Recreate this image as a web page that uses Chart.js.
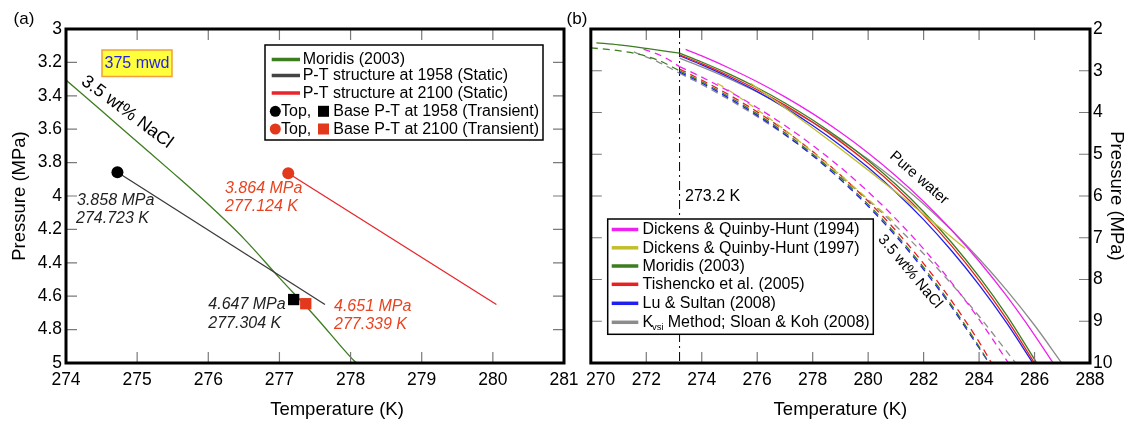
<!DOCTYPE html>
<html>
<head>
<meta charset="utf-8">
<title>Hydrate stability P-T</title>
<script src="https://cdn.jsdelivr.net/npm/chart.js@4.4.1/dist/chart.umd.min.js"></script>
<style>
  html, body { margin: 0; padding: 0; background: #ffffff; }
  #wrap { position: relative; width: 1128px; height: 421px; overflow: hidden; background: #ffffff; }
  canvas { position: absolute; top: 0; }
  #chartA { left: 0; }
  #chartB { left: 560px; }
</style>
</head>
<body>
<div id="wrap">
  <canvas id="chartA" width="600" height="421" style="width:600px;height:421px"></canvas>
  <canvas id="chartB" width="568" height="421" style="width:568px;height:421px"></canvas>
</div>
<script>
// ================= Panel (a) data =================
const tempTicksA = [274, 275, 276, 277, 278, 279, 280, 281];
const tempLabelsA = ['274', '275', '276', '277', '278', '279', '280', '281'];
const pressTicksA = [3, 3.2, 3.4, 3.6, 3.8, 4, 4.2, 4.4, 4.6, 4.8, 5];
const pressLabelsA = ['3', '3.2', '3.4', '3.6', '3.8', '4', '4.2', '4.4', '4.6', '4.8', '5'];

// Moridis (2003), 3.5 wt% NaCl
const moridisNaclT = [274, 274.5, 275, 275.5, 276, 276.5, 277, 277.5, 278, 278.08];
const moridisNaclP = [3.306, 3.49, 3.675, 3.86, 4.05, 4.255, 4.49, 4.72, 4.965, 5.0];
// static P-T structures
const static1958T = [274.723, 277.64];
const static1958P = [3.858, 4.65];
const static2100T = [277.124, 280.05];
const static2100P = [3.864, 4.65];
// transient top (circles) and base (squares): [1958, 2100]
const topT = [274.723, 277.124];
const topP = [3.858, 3.864];
const baseT = [277.2, 277.37];
const baseP = [4.62, 4.645];

// ================= Panel (b) data =================
const tempTicksB = [270, 272, 274, 276, 278, 280, 282, 284, 286, 288];
const tempLabelsB = ['\u2007\u2007270', '272', '274', '276', '278', '280', '282', '284', '286', '288'];
const pressTicksB = [2, 3, 4, 5, 6, 7, 8, 9, 10];
const pressLabelsB = ['2', '3', '4', '5', '6', '7', '8', '9', '10'];
const meltingT = [273.2, 273.2];
const meltingP = [2, 10];

const seriesNamesB = ['Dickens & Quinby-Hunt (1994)', 'Dickens & Quinby-Hunt (1997)', 'Moridis (2003)',
                      'Tishencko et al. (2005)', 'Lu & Sultan (2008)', 'Kvsi Method; Sloan & Koh (2008)'];

// pure water (solid)
const dq94T = [273.42, 274, 275, 276, 277, 278, 279, 280, 281, 282, 283, 284, 285, 286, 286.67];
const dq94P = [2.49, 2.646, 2.94, 3.264, 3.626, 4.028, 4.474, 4.969, 5.519, 6.13, 6.809, 7.562, 8.4, 9.33, 10];
const dq97T = [275.76, 276, 277, 278, 279, 280, 281, 282, 283, 283.5];
const dq97P = [3.3, 3.412, 3.886, 4.372, 4.87, 5.38, 5.902, 6.436, 6.982, 7.26];
const moridisIceT = [270.2, 271, 272, 273.2];
const moridisIceP = [2.33, 2.38, 2.465, 2.58];
const moridisT = [273.2, 274, 275, 276, 277, 278, 279, 280, 281, 282, 283, 284, 285, 286.08];
const moridisP = [2.58, 2.791, 3.082, 3.407, 3.771, 4.179, 4.637, 5.15, 5.727, 6.376, 7.107, 7.931, 8.86, 10];
const tishT = [273.2, 274, 275, 276, 277, 278, 279, 280, 281, 282, 283, 284, 285, 286];
const tishP = [2.62, 2.83, 3.125, 3.455, 3.822, 4.235, 4.698, 5.215, 5.797, 6.452, 7.19, 8.02, 8.955, 10];
const luT = [273.2, 274, 275, 276, 277, 278, 279, 280, 281, 282, 283, 284, 285, 285.94];
const luP = [2.64, 2.861, 3.162, 3.499, 3.884, 4.313, 4.79, 5.32, 5.91, 6.567, 7.306, 8.129, 9.046, 10];
const kvsiT = [273.2, 274, 275, 276, 277, 278, 279, 280, 281, 282, 283, 284, 285, 286, 286.98];
const kvsiP = [2.7, 2.909, 3.195, 3.509, 3.855, 4.237, 4.657, 5.12, 5.631, 6.194, 6.816, 7.503, 8.26, 9.096, 10];

// 3.5 wt% NaCl (dashed)
const dq94SaltIceT = [271.9, 272.6, 273.2];
const dq94SaltIceP = [2.48, 2.66, 2.9];
const dq94SaltT = [273.2, 274, 275, 276, 277, 278, 279, 280, 281, 282, 283, 284, 285.06];
const dq94SaltP = [2.9, 3.153, 3.499, 3.885, 4.312, 4.787, 5.313, 5.898, 6.547, 7.268, 8.067, 8.955, 10];
const dq97SaltT = [274.56, 275, 276, 277, 278, 279, 280, 280.9];
const dq97SaltP = [3.3, 3.48, 3.93, 4.42, 4.95, 5.5, 6.08, 6.6];
const moridisSaltIceT = [270, 271, 271.56, 272.4, 273.2];
const moridisSaltIceP = [2.45, 2.52, 2.58, 2.74, 3.0];
const moridisSaltT = [273.2, 274, 275, 276, 277, 278, 279, 280, 281, 282, 283, 284, 284.36];
const moridisSaltP = [3.0, 3.263, 3.627, 4.033, 4.487, 4.995, 5.563, 6.2, 6.912, 7.711, 8.606, 9.609, 10];
const tishSaltT = [273.2, 274, 275, 276, 277, 278, 279, 280, 281, 282, 283, 284, 284.45];
const tishSaltP = [2.96, 3.224, 3.583, 3.985, 4.433, 4.935, 5.496, 6.126, 6.829, 7.618, 8.503, 9.494, 10];
const luSaltT = [273.2, 274, 275, 276, 277, 278, 279, 280, 281, 282, 283, 284, 284.36];
const luSaltP = [3.03, 3.293, 3.662, 4.068, 4.525, 5.035, 5.605, 6.245, 6.96, 7.76, 8.65, 9.64, 10];
const kvsiSaltIceT = [271.55, 272.4, 273.2];
const kvsiSaltIceP = [2.55, 2.78, 3.06];
const kvsiSaltT = [273.2, 274, 275, 276, 277, 278, 279, 280, 281, 282, 283, 284, 285.32];
const kvsiSaltP = [3.06, 3.33, 3.697, 4.098, 4.537, 5.015, 5.536, 6.1, 6.717, 7.382, 8.102, 8.88, 10];

// ================= styling =================
const FONT = "'Liberation Sans', Arial, Helvetica, sans-serif";
Chart.defaults.font.family = FONT;
Chart.defaults.color = '#000';

const GREEN = '#3b7d1f';
const RED_A = '#e8252a';
const RED_MARK = '#e2391c';
const RED_TXT = '#e8431f';
const DARK = '#3a3a3a';
const MAGENTA = '#ee22ee';
const YELLOW = '#c3bf2c';
const RED_B = '#e8201e';
const BLUE = '#1f1ff2';
const GREY = '#8c8c8c';
const colorsB = [MAGENTA, YELLOW, GREEN, RED_B, BLUE, GREY];

function pts(T, P) { return T.map((t, i) => ({ x: t, y: P[i] })); }

function lineDs(label, T, P, color, dashed, width, smooth) {
  const d = {
    label, data: pts(T, P), showLine: true, borderColor: color, backgroundColor: color,
    borderWidth: width || 1.3, borderDash: dashed ? [7, 5] : [], pointRadius: 0, pointHoverRadius: 0,
    fill: false, tension: 0
  };
  if (smooth) d.cubicInterpolationMode = 'monotone';
  return d;
}
function markerDs(label, T, P, color, style, r) {
  return {
    label, data: pts(T, P), showLine: false, pointStyle: style, pointRadius: r, pointHoverRadius: r,
    backgroundColor: color, borderColor: color, borderWidth: 0
  };
}

// frame with inward ticks on all four sides
const framePlugin = {
  id: 'frame',
  afterDatasetsDraw(chart) {
    const { ctx, chartArea: a, scales } = chart;
    const xs = scales.x, ys = scales.y;
    const L = 11;
    ctx.save();
    ctx.strokeStyle = '#7a7a7a';
    ctx.lineWidth = 1.2;
    ctx.beginPath();
    xs.ticks.forEach(t => {
      const p = xs.getPixelForValue(t.value);
      if (p <= a.left + 2 || p >= a.right - 2) return;
      ctx.moveTo(p, a.bottom); ctx.lineTo(p, a.bottom - L);
      ctx.moveTo(p, a.top); ctx.lineTo(p, a.top + L);
    });
    ys.ticks.forEach(t => {
      const p = ys.getPixelForValue(t.value);
      if (p <= a.top + 2 || p >= a.bottom - 2) return;
      ctx.moveTo(a.left, p); ctx.lineTo(a.left + L, p);
      ctx.moveTo(a.right, p); ctx.lineTo(a.right - L, p);
    });
    ctx.stroke();
    ctx.strokeStyle = '#000';
    ctx.lineWidth = 3;
    ctx.strokeRect(a.left, a.top, a.right - a.left, a.bottom - a.top);
    ctx.restore();
  }
};

function text(ctx, s, x, y, font, color, align, rotDeg) {
  ctx.save();
  ctx.font = font;
  ctx.fillStyle = color;
  ctx.textAlign = align || 'left';
  ctx.textBaseline = 'middle';
  ctx.translate(x, y);
  if (rotDeg) ctx.rotate(rotDeg * Math.PI / 180);
  ctx.fillText(s, 0, 0);
  ctx.restore();
}

const annotA = {
  id: 'annotA',
  afterDatasetsDraw(chart) {
    const ctx = chart.ctx;
    ctx.save();
    text(ctx, '(a)', 24, 19, `17px ${FONT}`, '#000', 'center');
    text(ctx, 'Temperature (K)', 337, 410, `18.5px ${FONT}`, '#000', 'center');
    // 375 mwd box
    ctx.fillStyle = '#ffff3c';
    ctx.fillRect(102, 50, 70, 26.5);
    ctx.strokeStyle = '#f2a03a';
    ctx.lineWidth = 1.5;
    ctx.strokeRect(102, 50, 70, 26.5);
    text(ctx, '375 mwd', 137, 63.8, `16px ${FONT}`, '#2323e6', 'center');
    // salinity label
    text(ctx, '3.5 wt% NaCl', 127, 112, `18px ${FONT}`, '#000', 'center', 36.7);
    // value annotations
    const it = `italic 16px ${FONT}`;
    text(ctx, '3.858 MPa', 77, 200.7, it, '#222');
    text(ctx, '274.723 K', 76, 219, it, '#222');
    text(ctx, '3.864 MPa', 225, 188.3, it, RED_TXT);
    text(ctx, '277.124 K', 225, 206.3, it, RED_TXT);
    text(ctx, '4.647 MPa', 208.3, 305, it, '#222');
    text(ctx, '277.304 K', 208.3, 323.3, it, '#222');
    text(ctx, '4.651 MPa', 334, 306.7, it, RED_TXT);
    text(ctx, '277.339 K', 334, 325, it, RED_TXT);
    // legend
    ctx.fillStyle = '#fff';
    ctx.fillRect(265, 45, 278, 95);
    ctx.strokeStyle = '#000';
    ctx.lineWidth = 1.5;
    ctx.strokeRect(265, 45, 278, 95);
    const f = `16px ${FONT}`;
    const rows = [59.5, 75.5, 93, 111.3, 129];
    const lineRows = [[GREEN, 'Moridis (2003)'], ['#444', 'P-T structure at 1958 (Static)'], [RED_A, 'P-T structure at 2100 (Static)']];
    lineRows.forEach((r, i) => {
      ctx.strokeStyle = r[0];
      ctx.lineWidth = 3.5;
      ctx.beginPath(); ctx.moveTo(271.7, rows[i]); ctx.lineTo(300, rows[i]); ctx.stroke();
      text(ctx, r[1], 302.7, rows[i] + 0.5, f, '#000');
    });
    const mk = [['#000', 'Base P-T at 1958 (Transient)'], [RED_MARK, 'Base P-T at 2100 (Transient)']];
    mk.forEach((m, j) => {
      const y = rows[3 + j];
      ctx.fillStyle = m[0];
      ctx.beginPath(); ctx.arc(275.3, y, 5.5, 0, Math.PI * 2); ctx.fill();
      text(ctx, 'Top,', 281, y + 0.5, f, '#000');
      ctx.fillStyle = m[0];
      ctx.fillRect(318, y - 5.5, 11, 11);
      text(ctx, m[1], 333.3, y + 0.5, f, '#000');
    });
    ctx.restore();
  }
};

const annotB = {
  id: 'annotB',
  afterDatasetsDraw(chart) {
    const ctx = chart.ctx;
    ctx.save();
    text(ctx, '(b)', 17, 19, `17px ${FONT}`, '#000', 'center');
    text(ctx, '273.2 K', 125, 197, `16px ${FONT}`, '#000');
    text(ctx, 'Pure water', 359, 178, `15px ${FONT}`, '#000', 'center', 41);
    text(ctx, '3.5 wt% NaCl', 350, 271.7, `15px ${FONT}`, '#000', 'center', 50);
    // legend
    ctx.fillStyle = '#fff';
    ctx.fillRect(47.7, 219, 265.6, 115.3);
    ctx.strokeStyle = '#000';
    ctx.lineWidth = 1.5;
    ctx.strokeRect(47.7, 219, 265.6, 115.3);
    const rows = [229.5, 247.8, 266, 284.3, 303.3, 322.3];
    const f = `16px ${FONT}`;
    seriesNamesB.forEach((name, i) => {
      const y = rows[i];
      ctx.strokeStyle = colorsB[i];
      ctx.lineWidth = 3.5;
      ctx.beginPath(); ctx.moveTo(51.7, y); ctx.lineTo(78.3, y); ctx.stroke();
      if (name.startsWith('Kvsi')) {
        text(ctx, 'K', 82.5, y + 0.5, f, '#000');
        text(ctx, 'vsi', 92, y + 5.5, `9.5px ${FONT}`, '#000');
        text(ctx, name.slice(4), 103.3, y + 0.5, f, '#000');
      } else {
        text(ctx, name, 82.5, y + 0.5, f, '#000');
      }
    });
    ctx.restore();
  }
};

// ================= Chart (a) =================
new Chart(document.getElementById('chartA'), {
  type: 'scatter',
  data: {
    datasets: [
      markerDs('Top 2100', [topT[1]], [topP[1]], RED_MARK, 'circle', 6),
      markerDs('Top 1958', [topT[0]], [topP[0]], '#000', 'circle', 6),
      markerDs('Base 2100', [baseT[1]], [baseP[1]], RED_MARK, 'rect', 8),
      markerDs('Base 1958', [baseT[0]], [baseP[0]], '#000', 'rect', 8),
      lineDs('P-T structure at 1958 (Static)', static1958T, static1958P, DARK, false, 1.3),
      lineDs('P-T structure at 2100 (Static)', static2100T, static2100P, RED_A, false, 1.3),
      lineDs('Moridis (2003)', moridisNaclT, moridisNaclP, GREEN, false, 1.3, true)
    ]
  },
  options: {
    responsive: false, animation: false, devicePixelRatio: 1, events: [],
    layout: { padding: { top: 29, right: 36, left: 0, bottom: 0 } },
    plugins: { legend: { display: false }, tooltip: { enabled: false } },
    scales: {
      x: {
        type: 'linear', position: 'bottom', min: 274, max: 281,
        afterBuildTicks: s => { s.ticks = tempTicksA.map(v => ({ value: v })); },
        afterFit: s => { s.height = 58; },
        grid: { display: false, drawTicks: false }, border: { display: false },
        ticks: { autoSkip: false, maxRotation: 0, padding: 6.5, color: '#000', font: { size: 17.5 },
                 callback: (v, i) => tempLabelsA[i] },
        title: { display: false }
      },
      y: {
        type: 'linear', position: 'left', min: 3, max: 5, reverse: true,
        afterBuildTicks: s => { s.ticks = pressTicksA.map(v => ({ value: v })); },
        afterFit: s => { s.width = 66; },
        grid: { display: false, drawTicks: false }, border: { display: false },
        ticks: { autoSkip: false, padding: 4, color: '#000', font: { size: 17.5 },
                 callback: (v, i) => pressLabelsA[i] },
        title: { display: true, text: 'Pressure (MPa)', color: '#000', font: { size: 18.5 }, padding: { top: 9, bottom: 0 } }
      }
    }
  },
  plugins: [framePlugin, annotA]
});

// ================= Chart (b) =================
const dsB = [
  lineDs(seriesNamesB[0], dq94T, dq94P, MAGENTA, false, 1.3, true),
  lineDs(seriesNamesB[1], dq97T, dq97P, YELLOW, false, 1.3, true),
  lineDs(seriesNamesB[3], tishT, tishP, RED_B, false, 1.3, true),
  lineDs(seriesNamesB[2], moridisT, moridisP, GREEN, false, 1.3, true),
  lineDs(seriesNamesB[2] + ' ice', moridisIceT, moridisIceP, GREEN, false, 1.3, true),
  lineDs(seriesNamesB[4], luT, luP, BLUE, false, 1.3, true),
  lineDs(seriesNamesB[5], kvsiT, kvsiP, GREY, false, 1.3, true),
  lineDs(seriesNamesB[0] + ' NaCl', dq94SaltT, dq94SaltP, MAGENTA, true, 1.3, true),
  lineDs(seriesNamesB[0] + ' NaCl ice', dq94SaltIceT, dq94SaltIceP, MAGENTA, true, 1.3, true),
  lineDs(seriesNamesB[1] + ' NaCl', dq97SaltT, dq97SaltP, YELLOW, true, 1.3, true),
  lineDs(seriesNamesB[2] + ' NaCl', moridisSaltT, moridisSaltP, GREEN, true, 1.3, true),
  lineDs(seriesNamesB[2] + ' NaCl ice', moridisSaltIceT, moridisSaltIceP, GREEN, true, 1.3, true),
  lineDs(seriesNamesB[3] + ' NaCl', tishSaltT, tishSaltP, RED_B, true, 1.3, true),
  lineDs(seriesNamesB[4] + ' NaCl', luSaltT, luSaltP, BLUE, true, 1.3, true),
  lineDs(seriesNamesB[5] + ' NaCl', kvsiSaltT, kvsiSaltP, GREY, true, 1.3, true),
  lineDs(seriesNamesB[5] + ' NaCl ice', kvsiSaltIceT, kvsiSaltIceP, GREY, true, 1.3, true),
  Object.assign(lineDs('273.2 K', meltingT, meltingP, '#000', false, 1), { borderDash: [9, 4, 2, 4] })
];

new Chart(document.getElementById('chartB'), {
  type: 'scatter',
  data: { datasets: dsB },
  options: {
    responsive: false, animation: false, devicePixelRatio: 1, events: [],
    layout: { padding: { top: 29, right: 0, left: 30, bottom: 0 } },
    plugins: { legend: { display: false }, tooltip: { enabled: false } },
    scales: {
      x: {
        type: 'linear', position: 'bottom', min: 270, max: 288,
        afterBuildTicks: s => { s.ticks = tempTicksB.map(v => ({ value: v })); },
        afterFit: s => { s.height = 58; },
        grid: { display: false, drawTicks: false }, border: { display: false },
        ticks: { autoSkip: false, maxRotation: 0, padding: 6.5, color: '#000', font: { size: 17.5 },
                 callback: (v, i) => tempLabelsB[i] },
        title: { display: true, text: 'Temperature (K)', color: '#000', font: { size: 18.5 }, padding: { top: 0, bottom: 0 } }
      },
      y: {
        type: 'linear', position: 'right', min: 2, max: 10, reverse: true,
        afterBuildTicks: s => { s.ticks = pressTicksB.map(v => ({ value: v })); },
        afterFit: s => { s.width = 38; },
        grid: { display: false, drawTicks: false }, border: { display: false },
        ticks: { autoSkip: false, padding: 3, color: '#000', font: { size: 17.5 },
                 callback: (v, i) => pressLabelsB[i] },
        title: { display: true, text: 'Pressure (MPa)', color: '#000', font: { size: 18.5 }, padding: { top: 1, bottom: 0 } }
      }
    }
  },
  plugins: [framePlugin, annotB]
});
</script>
</body>
</html>
